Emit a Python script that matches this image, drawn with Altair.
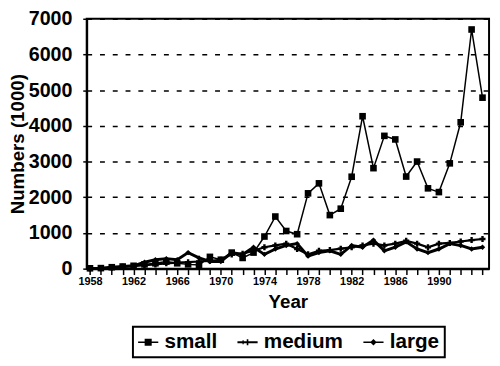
import altair as alt
import pandas as pd

years = list(range(1958, 1995))
small = [10, 15, 40, 60, 80, 120, 150, 200, 150, 120, 100, 330, 250, 450, 300, 450,
         900, 1460, 1055, 965, 2110, 2390, 1500, 1680, 2575, 4270, 2815, 3720, 3620,
         2580, 3000, 2250, 2145, 2950, 4100, 6700, 4790]
medium = [5, 10, 30, 50, 70, 100, 120, 150, 170, 180, 200, 220, 250, 400, 420, 500,
          600, 650, 700, 550, 400, 500, 520, 560, 600, 650, 700, 650, 700, 780, 700,
          600, 700, 720, 760, 800, 830]
large = [5, 10, 40, 60, 80, 180, 250, 280, 250, 450, 300, 200, 200, 450, 400, 600,
         400, 550, 650, 700, 350, 450, 500, 400, 650, 600, 800, 500, 600, 750, 550,
         450, 550, 700, 650, 550, 600]
series_names = ["small", "medium", "large"]
y_ticks = [0, 1000, 2000, 3000, 4000, 5000, 6000, 7000]
x_label_years = [1958, 1962, 1966, 1970, 1974, 1978, 1982, 1986, 1990]

rows = []
for name, vals in zip(series_names, [small, medium, large]):
    for y, v in zip(years, vals):
        rows.append({"Year": y, "Value": v, "series": name})
df = pd.DataFrame(rows)

FONT = "Liberation Sans"

x_scale = alt.Scale(domain=[1957.7, 1994.6], nice=False, zero=False)
y_scale = alt.Scale(domain=[0, 7000], nice=False)

x_axis = alt.Axis(values=years, format="d",
                  labelExpr="indexof(%s, datum.value) >= 0 ? datum.label : ''" % str(x_label_years),
                  tickSize=6, labelPadding=1, labelFontSize=11,
                  labelFont=FONT, labelFontWeight="bold", labelColor="black",
                  title="Year", titleFontSize=19, titleFont=FONT,
                  titleFontWeight="bold", titleColor="black", titlePadding=6,
                  grid=False, domainColor="black", domainWidth=2,
                  tickColor="black", tickWidth=1.5, labelFlush=False,
                  labelOverlap=False)
y_axis = alt.Axis(values=y_ticks, tickCount=8, format="d",
                  tickSize=4, labelPadding=11, labelFontSize=20,
                  labelFont=FONT, labelFontWeight="bold", labelColor="black",
                  title="Numbers (1000)", titleFontSize=19, titleFont=FONT,
                  titleFontWeight="bold", titleColor="black",
                  titleX=-64, titleBaseline="alphabetic",
                  grid=True, gridColor="black", gridWidth=1.5, gridDash=[5, 8],
                  domainColor="black", domainWidth=2,
                  tickColor="black", tickWidth=1.5, labelOverlap=False,
                  labelFlush=False)

X = alt.X("Year:Q", scale=x_scale, axis=x_axis)
Y = alt.Y("Value:Q", scale=y_scale, axis=y_axis)

lines = alt.Chart(df).mark_line(color="black").encode(
    x=X, y=Y,
    detail="series:N",
    strokeWidth=alt.StrokeWidth("series:N",
                                scale=alt.Scale(domain=series_names, range=[1.5, 3, 1.5]),
                                legend=None),
)

points = alt.Chart(df).mark_point(filled=True, color="black", opacity=1).encode(
    x=X, y=Y,
    shape=alt.Shape("series:N",
                    scale=alt.Scale(domain=series_names, range=["square", "cross", "diamond"]),
                    legend=None),
    size=alt.Size("series:N",
                  scale=alt.Scale(domain=series_names, range=[45, 30, 30]),
                  legend=None),
)

legend_paths = [
    "M-1,-0.07H1V0.07H-1Z M-0.35,-0.35H0.35V0.35H-0.35Z",
    "M-1,-0.1H1V0.1H-1Z M-0.08,-0.3H0.08V0.3H-0.08Z M-0.5,-0.2H-0.38V0.2H-0.5Z",
    "M-1,-0.07H1V0.07H-1Z M0,-0.32L0.32,0L0,0.32L-0.32,0Z",
]
legend_layer = alt.Chart(df).mark_point(filled=True, color="black", opacity=0).encode(
    x=X, y=Y,
    shape=alt.Shape("series:N",
                    scale=alt.Scale(domain=series_names, range=legend_paths),
                    legend=alt.Legend(title=None, orient="none", direction="horizontal",
                                      legendX=47, legendY=313,
                                      symbolOpacity=1, symbolFillColor="black",
                                      symbolStrokeWidth=0, symbolSize=420,
                                      labelFont=FONT, labelFontSize=21,
                                      labelFontWeight="bold", labelColor="black",
                                      labelOffset=6, columnPadding=20,
                                      strokeColor="black", padding=5)),
)

chart = alt.layer(lines, points, legend_layer).resolve_scale(
    shape="independent", size="independent"
).properties(
    width=409, height=254,
    autosize=alt.AutoSizeParams(type="none"),
    padding={"left": 80, "top": 8, "right": 3, "bottom": 96},
).configure_view(
    stroke="black", strokeWidth=2
).configure_legend(
    strokeWidth=2
).configure_axis(
    labelOverlap=False
)

chart.save("out.html", embed_options={"renderer": "svg", "actions": False})
